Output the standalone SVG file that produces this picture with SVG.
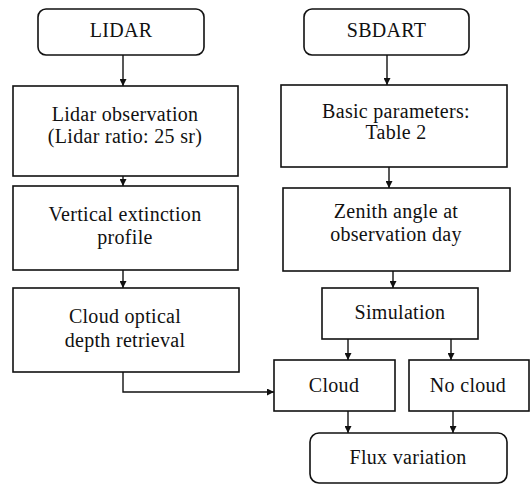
<svg xmlns="http://www.w3.org/2000/svg" width="531" height="485" viewBox="0 0 531 485">
<style>
.box{fill:#fff;stroke:#111;stroke-width:1.6}
.t{font-family:"Liberation Serif","Times New Roman",serif;font-size:20px;letter-spacing:0.3px;fill:#111;text-anchor:middle}
.c{fill:none;stroke:#111;stroke-width:1.4}
</style>
<defs>
<marker id="ah" viewBox="0 0 8 8" refX="8" refY="4" markerWidth="7" markerHeight="7" markerUnits="userSpaceOnUse" orient="auto">
<path d="M0,0 L8,4 L0,8 z" fill="#111"/>
</marker>
</defs>
<rect width="531" height="485" fill="#fff"/>
<g id="connectors">
<path class="c" marker-end="url(#ah)" d="M123,55 V86"/>
<path class="c" marker-end="url(#ah)" d="M123,176 V186"/>
<path class="c" marker-end="url(#ah)" d="M123,270 V288"/>
<path class="c" marker-end="url(#ah)" d="M123,372 V392 H274"/>
<path class="c" marker-end="url(#ah)" d="M387,55 V85"/>
<path class="c" marker-end="url(#ah)" d="M389,167 V188"/>
<path class="c" marker-end="url(#ah)" d="M393,271 V288"/>
<path class="c" marker-end="url(#ah)" d="M348,339 V360"/>
<path class="c" marker-end="url(#ah)" d="M451,339 V360"/>
<path class="c" marker-end="url(#ah)" d="M348,411 V433"/>
<path class="c" marker-end="url(#ah)" d="M453,411 V433"/>
</g>
<g id="lidar">
<rect class="box" x="38" y="9" width="166" height="46" rx="8"/>
<text class="t" x="121" y="37">LIDAR</text>
</g>
<g id="lidar-observation">
<rect class="box" x="13" y="86" width="225" height="90"/>
<text class="t" x="125" y="121">Lidar observation</text>
<text class="t" x="125" y="143">(Lidar ratio: 25 sr)</text>
</g>
<g id="vertical-extinction">
<rect class="box" x="13" y="186" width="225" height="84"/>
<text class="t" x="125" y="221">Vertical extinction</text>
<text class="t" x="125" y="244">profile</text>
</g>
<g id="cloud-optical-depth">
<rect class="box" x="13" y="288" width="226" height="84"/>
<text class="t" x="125" y="323">Cloud optical</text>
<text class="t" x="125" y="347">depth retrieval</text>
</g>
<g id="sbdart">
<rect class="box" x="304" y="9" width="165" height="46" rx="8"/>
<text class="t" x="386.5" y="37">SBDART</text>
</g>
<g id="basic-parameters">
<rect class="box" x="281" y="85" width="226" height="82"/>
<text class="t" x="396" y="118">Basic parameters:</text>
<text class="t" x="396" y="139">Table 2</text>
</g>
<g id="zenith-angle">
<rect class="box" x="283" y="188" width="227" height="83"/>
<text class="t" x="396" y="218">Zenith angle at</text>
<text class="t" x="396" y="241">observation day</text>
</g>
<g id="simulation">
<rect class="box" x="322" y="288" width="156" height="51"/>
<text class="t" x="400" y="319">Simulation</text>
</g>
<g id="cloud">
<rect class="box" x="274" y="360" width="121" height="51"/>
<text class="t" x="334" y="392">Cloud</text>
</g>
<g id="no-cloud">
<rect class="box" x="409" y="360" width="120" height="51"/>
<text class="t" x="468" y="392">No cloud</text>
</g>
<g id="flux-variation">
<rect class="box" x="310" y="433" width="197" height="50" rx="9"/>
<text class="t" x="408" y="464">Flux variation</text>
</g>
</svg>
